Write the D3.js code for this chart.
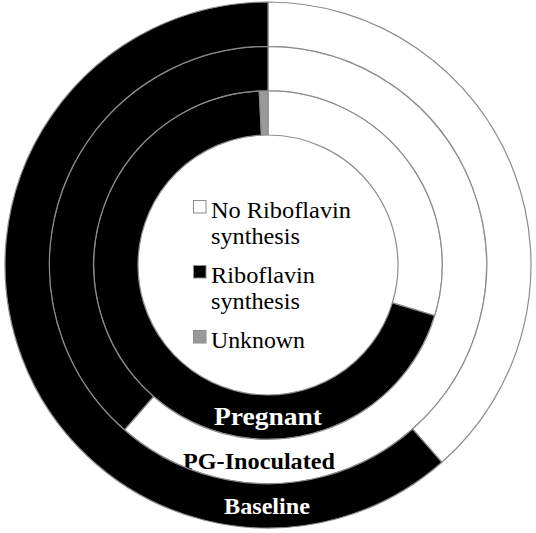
<!DOCTYPE html>
<html>
<head>
<meta charset="utf-8">
<script src="https://cdn.jsdelivr.net/npm/d3@7"></script>
<style>
  html, body { margin: 0; padding: 0; background: #fff; }
  svg { display: block; }
  text { font-family: "Liberation Serif", "Times New Roman", serif; }
</style>
</head>
<body>
<div id="wrapper"></div>
<script>
(function () {
  "use strict";

  // DATA (share of isolates per group, %)
  const categories = ["No Riboflavin synthesis", "Riboflavin synthesis", "Unknown"]
  const legendLines = [["No Riboflavin", "synthesis"], ["Riboflavin", "synthesis"], ["Unknown"]]
  const rings = ["Pregnant", "PG-Inoculated", "Baseline"]   // inner -> outer
  const pregnant = [29.7, 69.5, 0.8]
  const pgInoculated = [61.4, 38.6, 0]
  const baseline = [38.5, 61.5, 0]
  const ringValues = [pregnant, pgInoculated, baseline]

  // the original is set in Times; without it, stretch the fallback to the same widths
  const textWidths = {
    "No Riboflavin": 140, "synthesis": 89, "Riboflavin": 104, "Unknown": 94,
    "Pregnant": 108, "PG-Inoculated": 152, "Baseline": 86
  }
  // the middle label sits a little left of centre in the original
  const labelShift = { "Pregnant": 0, "PG-Inoculated": -9, "Baseline": -1 }

  // DIMENSIONS
  let dimensions = {
    width: 536,
    height: 533,
    cx: 268,
    cy: 265,
    holeRadius: 130,
    outerRadius: 263
  }

  const wrapper = d3.select("#wrapper").append("svg")
    .attr("width", dimensions.width)
    .attr("height", dimensions.height)

  const bounds = wrapper.append("g")
    .attr("transform", `translate(${dimensions.cx},${dimensions.cy})`)

  // SCALES
  const radiusScale = d3.scaleBand()
    .domain(rings)
    .range([dimensions.holeRadius, dimensions.outerRadius])

  const colorScale = d3.scaleOrdinal()
    .domain(categories)
    .range(["#ffffff", "#000000", "#9a9a9a"])

  const pie = d3.pie()
    .sort(null)
    .value(d => d.value)

  // RINGS
  rings.forEach((ring, i) => {
    const slices = pie(categories.map((c, j) => ({ category: c, value: ringValues[i][j] })))
    const arc = d3.arc()
      .innerRadius(radiusScale(ring))
      .outerRadius(radiusScale(ring) + radiusScale.bandwidth())

    bounds.append("g").selectAll("path")
      .data(slices.filter(d => d.data.value > 0))
      .join("path")
      .attr("d", arc)
      .attr("fill", d => colorScale(d.data.category))
      .attr("stroke", "#8c8c8c")
      .attr("stroke-width", 1.2)

    // label sits at the bottom of the ring, contrasting with the slice behind it
    const bottom = slices.find(d => d.startAngle <= Math.PI && d.endAngle > Math.PI)
    const behind = colorScale(bottom.data.category)
    const r = radiusScale(ring) + radiusScale.bandwidth() / 2

    bounds.append("text")
      .attr("x", labelShift[ring])
      .attr("y", r)
      .attr("dy", "0.33em")
      .attr("text-anchor", "middle")
      .attr("fill", behind === "#000000" ? "#fff" : "#000")
      .attr("font-weight", "bold")
      .attr("font-size", ring === "Pregnant" ? 25 : 24)
      .attr("textLength", textWidths[ring])
      .attr("lengthAdjust", "spacingAndGlyphs")
      .text(ring)
  })

  // LEGEND
  const legend = wrapper.append("g")
    .attr("transform", "translate(193,218)")

  const lineH = 26
  const gap = 13
  let yPos = 0
  categories.forEach((c, i) => {
    const item = legend.append("g")
      .attr("transform", `translate(0,${yPos})`)

    item.append("rect")
      .attr("x", 0.5)
      .attr("y", -17.5)
      .attr("width", 12.5)
      .attr("height", 12.5)
      .attr("fill", colorScale(c))
      .attr("stroke", "#8c8c8c")
      .attr("stroke-width", 1)

    item.selectAll("text")
      .data(legendLines[i])
      .join("text")
      .attr("x", 18)
      .attr("y", (d, k) => k * lineH)
      .attr("fill", "#000")
      .attr("font-size", 24)
      .attr("textLength", d => textWidths[d])
      .attr("lengthAdjust", "spacingAndGlyphs")
      .text(d => d)

    yPos += legendLines[i].length * lineH + gap
  })

})();
</script>
</body>
</html>
